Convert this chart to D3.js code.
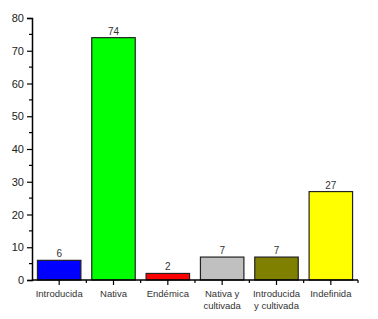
<!DOCTYPE html>
<html>
<head>
<meta charset="utf-8">
<script src="https://cdn.jsdelivr.net/npm/d3@7"></script>
<style>
  body { margin: 0; background: #fff; }
  svg { display: block; font-family: Arial, "Liberation Sans", sans-serif; }
</style>
</head>
<body>
<svg id="chart"></svg>
<script>
const categories = ['Introducida', 'Nativa', 'Endémica', 'Nativa y\ncultivada', 'Introducida\ny cultivada', 'Indefinida']
const counts = [6, 74, 2, 7, 7, 27]
const barColors = ['#0000ff', '#00ff00', '#ff0000', '#c0c0c0', '#808000', '#ffff00']
const yTicks = [0, 10, 20, 30, 40, 50, 60, 70, 80]

const width = 378, height = 319
const margin = { top: 18, right: 20, bottom: 39, left: 32 }

const svg = d3.select('#chart')
  .attr('width', width)
  .attr('height', height)

const x = d3.scaleBand()
  .domain(categories)
  .range([margin.left, width - margin.right])
  .paddingInner(0.2)
  .paddingOuter(0.1)

const y = d3.scaleLinear()
  .domain([0, 80])
  .range([height - margin.bottom, margin.top])

// bars
svg.append('g')
  .selectAll('rect')
  .data(counts)
  .enter()
  .append('rect')
    .attr('x', (d, i) => x(categories[i]))
    .attr('y', d => y(d))
    .attr('width', x.bandwidth())
    .attr('height', d => y(0) - y(d))
    .attr('fill', (d, i) => barColors[i])
    .attr('stroke', '#222')
    .attr('stroke-width', 1.2)

// value labels
svg.append('g')
  .selectAll('text')
  .data(counts)
  .enter()
  .append('text')
    .attr('x', (d, i) => x(categories[i]) + x.bandwidth() / 2)
    .attr('y', d => y(d) - 3)
    .attr('text-anchor', 'middle')
    .style('font-size', '10px')
    .style('fill', '#333')
    .text(d => d)

// y axis
const yAxis = d3.axisLeft(y).tickValues(yTicks).tickSize(5).tickPadding(3)
const gy = svg.append('g')
  .attr('transform', `translate(${margin.left},0)`)
  .call(yAxis)
gy.select('.domain').attr('stroke', '#000').attr('stroke-width', 1.5)
gy.selectAll('.tick line').attr('stroke', '#000').attr('stroke-width', 1.2)
gy.selectAll('.tick text').style('font-size', '11px').style('fill', '#222')
  .style('font-family', 'Arial, "Liberation Sans", sans-serif')

// minor y ticks
gy.selectAll('.minor')
  .data(yTicks.slice(0, -1).map(v => v + 5))
  .enter()
  .append('line')
    .attr('class', 'minor')
    .attr('x1', -3).attr('x2', 0)
    .attr('y1', d => y(d)).attr('y2', d => y(d))
    .attr('stroke', '#000')
    .attr('stroke-width', 1.2)

// x axis
const xAxis = d3.axisBottom(x).tickSize(5).tickFormat('')
const gx = svg.append('g')
  .attr('transform', `translate(0,${y(0)})`)
  .call(xAxis)
gx.select('.domain').attr('d', `M${margin.left},0H${width - margin.right}`)
  .attr('stroke', '#000').attr('stroke-width', 1.5)
gx.selectAll('.tick line').attr('stroke', '#000').attr('stroke-width', 1.2)

// minor x ticks at band boundaries
const step = x.step()
const boundaries = categories.slice(1).map(c => x(c) - step * x.paddingInner() / 2)
boundaries.push(width - margin.right)
gx.selectAll('.minor')
  .data(boundaries)
  .enter()
  .append('line')
    .attr('class', 'minor')
    .attr('x1', d => d).attr('x2', d => d)
    .attr('y1', 0).attr('y2', 3)
    .attr('stroke', '#000')
    .attr('stroke-width', 1.2)

// x labels (multi-line)
const xl = svg.append('g')
  .selectAll('text')
  .data(categories)
  .enter()
  .append('text')
    .attr('x', d => x(d) + x.bandwidth() / 2)
    .attr('y', y(0) + 17)
    .attr('text-anchor', 'middle')
    .style('font-size', '9.5px')
    .style('fill', '#333')
xl.selectAll('tspan')
  .data(d => d.split('\n'))
  .enter()
  .append('tspan')
    .attr('x', function () { return d3.select(this.parentNode).attr('x') })
    .attr('dy', (d, i) => i === 0 ? 0 : 12)
    .text(d => d)
</script>
</body>
</html>
